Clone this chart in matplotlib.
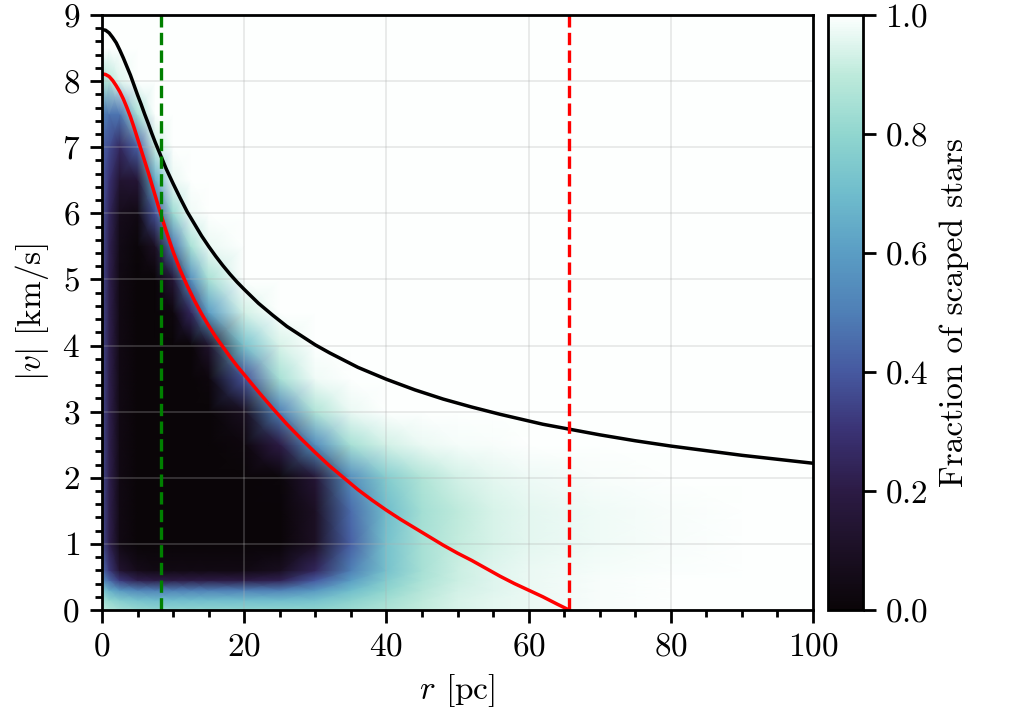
import numpy as np
import matplotlib
matplotlib.use("Agg")
import matplotlib.pyplot as plt
from matplotlib.colors import LinearSegmentedColormap
from matplotlib.ticker import MultipleLocator

# --- data ---
# grid nodes of the escaped-fraction map
r_nodes = [0, 1, 2.5, 5, 7.5, 10, 12.5, 15, 20, 25, 30, 35, 40, 45, 50, 55, 60, 70, 80, 90, 100]
v_nodes = [0, 0.15, 0.3, 0.45, 0.6, 1.0, 1.5, 2.0, 2.5, 3.0, 3.5, 4.0, 4.5, 5.0,
           5.5, 6.0, 6.5, 7.0, 7.5, 8.0, 8.5, 9.0]

# fraction of escaped stars, one row per v node (r along the row)
frac = [
    [0.90, 0.88, 0.85, 0.82, 0.80, 0.80, 0.80, 0.80, 0.80, 0.80, 0.80, 0.83, 0.87, 0.91, 0.94, 0.96, 0.97, 0.99, 1, 1, 1],
    [0.85, 0.80, 0.76, 0.72, 0.70, 0.70, 0.70, 0.70, 0.70, 0.70, 0.72, 0.78, 0.84, 0.90, 0.94, 0.96, 0.97, 0.99, 1, 1, 1],
    [0.75, 0.66, 0.58, 0.52, 0.50, 0.50, 0.50, 0.50, 0.50, 0.50, 0.58, 0.70, 0.80, 0.88, 0.93, 0.95, 0.97, 0.99, 1, 1, 1],
    [0.55, 0.45, 0.32, 0.22, 0.20, 0.20, 0.20, 0.20, 0.20, 0.23, 0.40, 0.60, 0.76, 0.86, 0.92, 0.95, 0.97, 0.99, 1, 1, 1],
    [0.45, 0.32, 0.14, 0.06, 0.04, 0.04, 0.04, 0.04, 0.04, 0.08, 0.25, 0.50, 0.72, 0.85, 0.92, 0.95, 0.97, 0.985, 0.995, 1, 1],
    [0.36, 0.22, 0.04, 0, 0, 0, 0, 0, 0, 0, 0.10, 0.42, 0.72, 0.85, 0.91, 0.94, 0.96, 0.98, 0.99, 1, 1],
    [0.36, 0.22, 0.04, 0, 0, 0, 0, 0, 0, 0, 0.10, 0.45, 0.70, 0.84, 0.90, 0.94, 0.96, 0.98, 0.99, 1, 1],
    [0.36, 0.22, 0.04, 0, 0, 0, 0, 0, 0, 0.01, 0.15, 0.55, 0.76, 0.87, 0.93, 0.96, 0.975, 0.99, 1, 1, 1],
    [0.36, 0.22, 0.04, 0, 0, 0, 0, 0, 0.02, 0.20, 0.55, 0.85, 0.93, 0.97, 0.985, 0.99, 1, 1, 1, 1, 1],
    [0.36, 0.22, 0.04, 0, 0, 0, 0, 0, 0.08, 0.50, 0.87, 0.97, 1, 1, 1, 1, 1, 1, 1, 1, 1],
    [0.36, 0.22, 0.04, 0, 0, 0, 0, 0.02, 0.38, 0.85, 0.98, 1, 1, 1, 1, 1, 1, 1, 1, 1, 1],
    [0.36, 0.22, 0.04, 0, 0, 0, 0, 0.12, 0.72, 0.94, 1, 1, 1, 1, 1, 1, 1, 1, 1, 1, 1],
    [0.36, 0.22, 0.04, 0, 0, 0.02, 0.25, 0.60, 0.93, 1, 1, 1, 1, 1, 1, 1, 1, 1, 1, 1, 1],
    [0.36, 0.22, 0.04, 0, 0, 0.15, 0.55, 0.85, 1, 1, 1, 1, 1, 1, 1, 1, 1, 1, 1, 1, 1],
    [0.37, 0.23, 0.05, 0.01, 0.10, 0.48, 0.85, 0.97, 1, 1, 1, 1, 1, 1, 1, 1, 1, 1, 1, 1, 1],
    [0.38, 0.25, 0.07, 0.04, 0.38, 0.82, 0.98, 1, 1, 1, 1, 1, 1, 1, 1, 1, 1, 1, 1, 1, 1],
    [0.40, 0.30, 0.14, 0.15, 0.65, 0.97, 1, 1, 1, 1, 1, 1, 1, 1, 1, 1, 1, 1, 1, 1, 1],
    [0.42, 0.36, 0.25, 0.42, 0.92, 1, 1, 1, 1, 1, 1, 1, 1, 1, 1, 1, 1, 1, 1, 1, 1],
    [0.50, 0.47, 0.47, 0.85, 1, 1, 1, 1, 1, 1, 1, 1, 1, 1, 1, 1, 1, 1, 1, 1, 1],
    [0.85, 0.88, 0.95, 1, 1, 1, 1, 1, 1, 1, 1, 1, 1, 1, 1, 1, 1, 1, 1, 1, 1],
    [1] * 21,
    [1] * 21,
]

# escape velocity curve (black)
esc_r = [0, 0.5, 1, 1.5, 2, 2.5, 3, 3.5, 4, 4.5, 5, 5.5, 6, 6.5, 7, 7.5, 8, 9, 10,
         11, 12, 13, 14, 15, 16, 17, 18, 19, 20, 22, 24, 26, 28, 30, 32, 34, 36,
         38, 40, 42, 44, 46, 48, 50, 52, 56, 58, 60, 62, 66, 70, 75, 80, 85, 90,
         95, 100]
esc_v = [8.78, 8.77, 8.73, 8.66, 8.58, 8.47, 8.35, 8.22, 8.09, 7.94, 7.79, 7.65,
         7.50, 7.36, 7.21, 7.07, 6.94, 6.68, 6.45, 6.23, 6.02, 5.84, 5.66, 5.50,
         5.35, 5.21, 5.08, 4.96, 4.85, 4.64, 4.46, 4.29, 4.15, 4.01, 3.89, 3.78,
         3.67, 3.58, 3.49, 3.41, 3.33, 3.26, 3.19, 3.13, 3.07, 2.96, 2.91, 2.86,
         2.81, 2.73, 2.65, 2.56, 2.48, 2.41, 2.34, 2.28, 2.22]

# escape velocity w.r.t. the tidal radius (red)
tid_r = [0, 0.5, 1, 1.5, 2, 2.5, 3, 3.5, 4, 4.5, 5, 5.5, 6, 6.5, 7, 7.5, 8, 9, 10,
         11, 12, 13, 14, 15, 16, 17, 18, 19, 20, 22, 24, 26, 28, 30, 32, 34, 36,
         38, 40, 42, 44, 46, 48, 50, 52, 54, 56, 58, 60, 62, 64, 65.7]
tid_v = [8.11, 8.10, 8.07, 8.01, 7.93, 7.84, 7.73, 7.60, 7.46, 7.30, 7.13, 6.96,
         6.79, 6.62, 6.44, 6.26, 6.08, 5.74, 5.42, 5.14, 4.90, 4.68, 4.48, 4.30,
         4.13, 3.98, 3.83, 3.69, 3.56, 3.30, 3.05, 2.81, 2.59, 2.38, 2.18, 2.00,
         1.82, 1.66, 1.51, 1.37, 1.24, 1.11, 0.98, 0.86, 0.75, 0.63, 0.51, 0.40,
         0.30, 0.20, 0.09, 0.0]

r_core = 8.3     # green dashed line
r_tidal = 65.7   # red dashed line

# --- style ---
plt.rcParams.update({
    "font.family": "serif",
    "font.serif": ["cmr10", "DejaVu Serif"],
    "mathtext.fontset": "cm",
    "axes.formatter.use_mathtext": True,
    "axes.unicode_minus": False,
    "font.size": 12,
})

cmap = LinearSegmentedColormap.from_list("escaped", [
    "#0a0508", "#1c1025", "#2c1b45", "#3a3274", "#4659a0", "#4f7fb6",
    "#5a9dc4", "#6fbccc", "#90d6cf", "#bdeadb", "#fdfffe"])

fig = plt.figure(figsize=(5.075, 3.59), dpi=200)
ax = fig.add_axes([0.1005, 0.1504, 0.7005, 0.8287])
cax = fig.add_axes([0.8158, 0.1504, 0.0345, 0.8287])

R, V = np.meshgrid(r_nodes, v_nodes)
mesh = ax.pcolormesh(R, V, np.array(frac), cmap=cmap, vmin=0, vmax=1,
                     shading="gouraud", rasterized=True)

ax.plot(esc_r, esc_v, color="black", lw=1.25)
ax.plot(tid_r, tid_v, color="red", lw=1.25)
ax.axvline(r_core, color="green", ls="--", lw=1.2)
ax.axvline(r_tidal, color="red", ls="--", lw=1.2)

ax.set_xlim(0, 100)
ax.set_ylim(0, 9)
ax.xaxis.set_major_locator(MultipleLocator(20))
ax.xaxis.set_minor_locator(MultipleLocator(5))
ax.yaxis.set_major_locator(MultipleLocator(1))
ax.yaxis.set_minor_locator(MultipleLocator(0.2))
ax.tick_params(which="both", direction="out", width=1.0, top=False, right=False)
ax.tick_params(which="major", length=4.5)
ax.tick_params(which="minor", length=2.5)
for s in ax.spines.values():
    s.set_linewidth(1.0)
ax.grid(True, which="major", color="#b0b0b0", alpha=0.3, lw=0.6)

ax.set_xlabel(r"$r$ [pc]")
ax.set_ylabel(r"$|v|$ [km/s]")

cb = fig.colorbar(mesh, cax=cax)
cb.set_ticks([0, 0.2, 0.4, 0.6, 0.8, 1.0])
cb.ax.tick_params(direction="out", length=4.5, width=1.0)
cb.outline.set_linewidth(1.0)
cb.set_label("Fraction of scaped stars")

fig.savefig("out.png", dpi=200)
